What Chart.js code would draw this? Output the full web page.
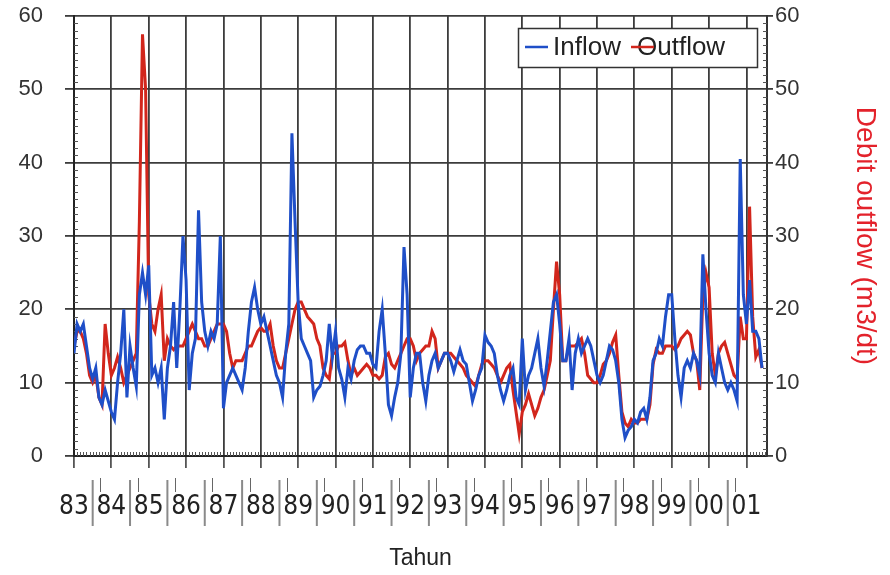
<!DOCTYPE html>
<html>
<head>
<meta charset="utf-8">
<script src="https://cdn.jsdelivr.net/npm/chart.js@4.4.1/dist/chart.umd.min.js"></script>
<style>
html, body { margin: 0; padding: 0; background: #fff; }
#wrap { width: 890px; height: 575px; }
</style>
</head>
<body>
<div id="wrap"><canvas id="chart" width="890" height="575"></canvas></div>
<script>
// =====================
// DATA (monthly, Jan 1983 - Jun 2001)
// =====================
const firstYear = 83;
const lastYear = 101.55;
const yearLabels = ['83','84','85','86','87','88','89','90','91','92','93','94','95','96','97','98','99','00','01'];
const yTicks = [0, 10, 20, 30, 40, 50, 60];

const inflow = [
    14, 18, 17, 18, 15, 12, 10.5, 12, 8, 7, 9, 7.5,          // 83
    6, 5, 10, 14, 20, 8, 15, 12, 9.5, 22, 25, 22,            // 84
    26, 11, 12, 10, 12, 5, 12, 15, 21, 12, 20, 30,           // 85
    24, 9, 14, 16, 33.5, 21, 17, 15, 17, 16, 18, 30,         // 86
    6.5, 10, 11, 12, 11, 10, 9, 12, 17, 21, 23, 20,          // 87
    18, 19, 17, 15, 13, 11, 10, 8, 14, 18, 44, 32,           // 88
    21, 16, 15, 14, 13, 8, 9, 9.5, 11, 13, 18, 13.5,         // 89
    17, 12, 10.5, 8, 12, 10.5, 13, 14.5, 15, 15, 14, 14,     // 90
    12.5, 12, 17, 20, 14, 7, 5.5, 8, 10, 14, 28.5, 22,       // 91
    8, 12, 14, 14, 10, 7.5, 11, 13, 14, 12, 13, 14,          // 92
    14, 13, 11.5, 13, 14.5, 13, 12.5, 10, 7.5, 9, 11, 12,    // 93
    16.5, 15.5, 15, 14, 11, 9, 7.5, 9, 11, 12, 8, 7,         // 94
    16, 9, 11, 12, 14, 16, 12, 9.5, 13, 17, 21, 22,          // 95
    18, 13, 13, 16, 9, 14, 16, 14, 15, 16, 15, 13,           // 96
    11, 10, 11, 13, 15, 14.5, 13, 10, 5, 2.5, 3.5, 4,        // 97
    5, 4.5, 6, 6.5, 5, 8, 13, 14, 16, 15, 19, 22,            // 98
    22, 16, 11, 8, 12, 13, 12, 14, 13, 11, 27.5, 20,         // 99
    14, 11, 10, 14, 12, 10, 9, 10, 9, 7.5, 40.5, 22,         // 00
    18, 24, 17, 17, 16, 12                                   // 01
];

const outflow = [
    15, 17, 17, 16, 14, 11, 10, 11, 8, 7, 18, 14,            // 83
    11, 12, 13.5, 12, 10, 11, 12, 13, 14, 32, 57.5, 50,      // 84
    22, 18, 17, 20, 22, 13, 16, 15, 14.5, 15, 15, 15,        // 85
    16, 17, 18, 17, 16, 16, 15, 15, 16, 17, 18, 18,          // 86
    18, 17, 14, 12, 13, 13, 13, 14, 15, 15, 16, 17,          // 87
    17.5, 17, 17, 18, 15, 13, 12, 12, 14, 16, 18, 20,        // 88
    21, 21, 20, 19, 18.5, 18, 16, 15, 12, 11, 10.5, 14,      // 89
    14, 15, 15, 15.5, 13, 11, 12, 11, 11.5, 12, 12.5, 12,    // 90
    11, 11, 10.5, 11, 13.5, 14, 12.5, 12, 13, 14, 15, 16,    // 91
    16, 15, 13, 14, 14.5, 15, 15, 17, 16, 12, 13, 14,        // 92
    14, 14, 13.5, 13, 12.5, 12, 11, 10.5, 10, 9.5, 11, 12.5, // 93
    13, 13, 12.5, 12, 11, 10, 11, 12, 12.5, 9, 6, 3,         // 94
    6, 7, 8.5, 7, 5.5, 6.5, 8, 9, 11, 13, 20, 26.5,          // 95
    22, 13, 13, 15, 15, 15, 15.5, 16, 14, 11, 10.5, 10,      // 96
    10, 11, 12.5, 13, 14, 15.5, 16.5, 11, 6, 4.5, 4, 5,      // 97
    4.5, 4.5, 5, 5, 5, 7, 12.5, 14.5, 14, 14, 15, 15,        // 98
    15, 14.5, 15, 16, 16.5, 17, 16.5, 14, 13, 9, 22, 25,     // 99
    23, 14, 11, 14, 15, 15.5, 14, 12.5, 11, 10.5, 19, 16,    // 00
    16, 34, 19, 13.5, 14.5, 12                               // 01
];

const blue = '#1f4fc8';
const red = '#d2261c';
const gridColor = '#3c3c3c';
const fontFamily = "'Liberation Sans', Arial, sans-serif";

function toPoints(values) {
    return values.map((v, i) => ({ x: firstYear + i / 12, y: v }));
}

// y axes: fixed width, no extra room above/below for the labels
function fitY(width) {
    return s => {
        s.width = width;
        s.paddingTop = 0;
        s.paddingBottom = 0;
    };
}

// =====================
// PLUGINS
// =====================
const minorTicks = {
    id: 'minorTicks',
    beforeDatasetsDraw(chart) {
        const { ctx, scales: { x, y } } = chart;
        ctx.save();
        ctx.strokeStyle = '#555';
        ctx.lineWidth = 1;
        ctx.beginPath();
        for (let v = 1; v < 60; v++) {
            if (v % 10 === 0) continue;
            const py = Math.round(y.getPixelForValue(v)) + 0.5;
            ctx.moveTo(x.left, py); ctx.lineTo(x.left + 4, py);
            ctx.moveTo(x.right - 4, py); ctx.lineTo(x.right, py);
        }
        const months = Math.floor((lastYear - firstYear) * 12);
        for (let m = 1; m <= months; m++) {
            if (m % 12 === 0) continue;
            const px = Math.round(x.getPixelForValue(firstYear + m / 12)) + 0.5;
            ctx.moveTo(px, y.bottom); ctx.lineTo(px, y.bottom - 4);
        }
        ctx.stroke();
        ctx.restore();
    }
};

// separators between the year labels
const yearMarks = {
    id: 'yearMarks',
    afterDraw(chart) {
        const { ctx, scales: { x, y } } = chart;
        ctx.save();
        ctx.strokeStyle = '#8a8a8a';
        ctx.lineWidth = 2;
        ctx.beginPath();
        for (let k = 0; k < yearLabels.length - 1; k++) {
            const px = x.getPixelForValue(firstYear + k + 0.5);
            ctx.moveTo(px, y.bottom + 24); ctx.lineTo(px, y.bottom + 70);
        }
        ctx.stroke();
        ctx.strokeStyle = '#666';
        ctx.lineWidth = 1;
        ctx.beginPath();
        for (let k = 1; k < yearLabels.length; k++) {
            const px = Math.round(x.getPixelForValue(firstYear + k - 0.3)) + 0.5;
            ctx.moveTo(px, y.bottom + 22); ctx.lineTo(px, y.bottom + 36);
        }
        ctx.stroke();
        ctx.restore();
    }
};

const legendBox = {
    id: 'legendBox',
    afterDraw(chart) {
        const ctx = chart.ctx;
        const sets = chart.data.datasets;
        ctx.save();
        ctx.fillStyle = '#fff';
        ctx.fillRect(518, 28, 239, 39);
        ctx.strokeStyle = '#333';
        ctx.lineWidth = 1.5;
        ctx.strokeRect(518.5, 28.5, 239, 39);

        const items = [
            { lineX: 525, textX: 553 },
            { lineX: 631, textX: 637 }
        ];
        ctx.font = '26px ' + fontFamily;
        ctx.textBaseline = 'middle';
        sets.forEach((ds, i) => {
            const it = items[i];
            ctx.fillStyle = '#222';
            ctx.fillText(ds.label, it.textX, 48);
            ctx.strokeStyle = ds.borderColor;
            ctx.lineWidth = 2.5;
            ctx.beginPath();
            ctx.moveTo(it.lineX, 47); ctx.lineTo(it.lineX + 23, 47);
            ctx.stroke();
        });
        ctx.restore();
    }
};

// =====================
// CHART
// =====================
const ctx = document.getElementById('chart').getContext('2d');

new Chart(ctx, {
    type: 'line',
    data: {
        datasets: [
            { label: 'Inflow', data: toPoints(inflow), borderColor: blue, borderWidth: 3, pointRadius: 0, tension: 0, yAxisID: 'y' },
            { label: 'Outflow', data: toPoints(outflow), borderColor: red, borderWidth: 3, pointRadius: 0, tension: 0, yAxisID: 'y1' }
        ]
    },
    options: {
        responsive: false,
        animation: false,
        devicePixelRatio: 1,
        layout: { padding: { top: 16, left: 0, right: 0, bottom: 0 } },
        plugins: { legend: { display: false }, tooltip: { enabled: false } },
        scales: {
            x: {
                type: 'linear',
                min: firstYear,
                max: lastYear,
                afterFit: s => { s.height = 119; },
                ticks: {
                    stepSize: 1, includeBounds: false, autoSkip: false, maxRotation: 0,
                    padding: 24, color: '#222',
                    font: { family: "'Liberation Sans Narrow', 'DejaVu Sans Condensed', " + fontFamily, size: 26 },
                    callback: v => yearLabels[Math.round(v - firstYear)] ?? ''
                },
                grid: { color: gridColor, lineWidth: 1.8, tickLength: 12, tickColor: '#555' },
                border: { color: '#222', width: 2 },
                title: { display: true, text: 'Tahun', color: '#222', font: { family: fontFamily, size: 23 }, padding: { top: 0, bottom: 3 } }
            },
            y: {
                position: 'left',
                min: 0, max: 60,
                afterFit: fitY(74),
                ticks: { stepSize: 10, padding: 22, color: '#333', font: { family: fontFamily, size: 22 }, callback: v => yTicks.includes(v) ? String(v) : '' },
                grid: { color: gridColor, lineWidth: 1.8, tickLength: 9 },
                border: { color: '#222', width: 2 }
            },
            y1: {
                position: 'right',
                min: 0, max: 60,
                afterFit: fitY(123),
                ticks: { stepSize: 10, padding: 2, color: '#333', font: { family: fontFamily, size: 22 }, callback: v => yTicks.includes(v) ? String(v) : '' },
                grid: { drawOnChartArea: false, color: gridColor, lineWidth: 1.8, tickLength: 6 },
                border: { color: '#333', width: 2 },
                title: { display: true, text: 'Debit outflow (m3/dt)', color: '#e3222b', font: { family: fontFamily, size: 28 }, padding: { top: 8, bottom: 0 } }
            }
        }
    },
    plugins: [minorTicks, yearMarks, legendBox]
});
</script>
</body>
</html>
